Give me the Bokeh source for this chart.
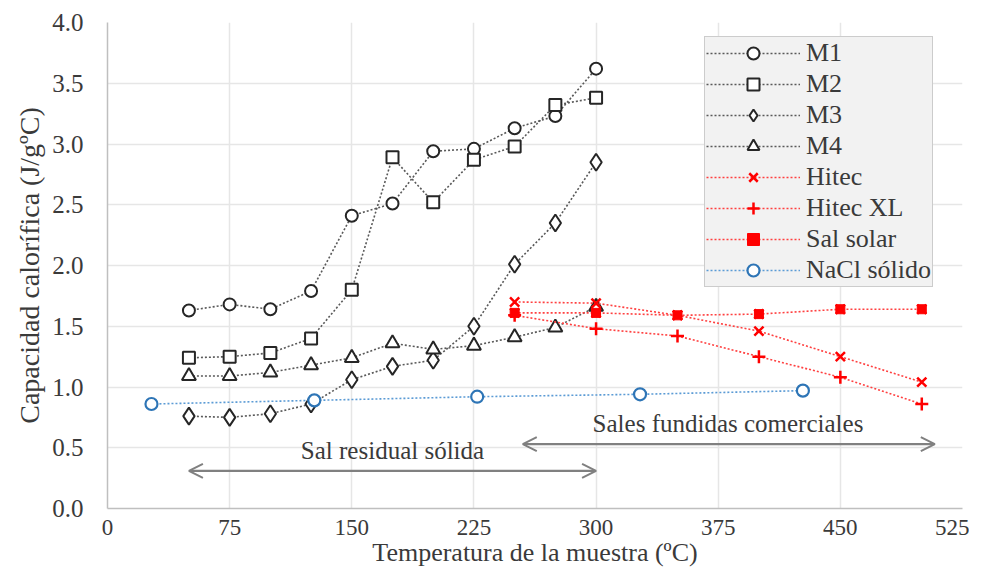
from bokeh.plotting import figure
from bokeh.models import (Arrow, OpenHead, Label, Legend, LegendItem, FixedTicker,
                          PrintfTickFormatter, Range1d)
from bokeh.embed import file_html
from bokeh.resources import INLINE

# ---- data ----
temp_m = [50, 75, 100, 125, 150, 175, 200, 225, 250, 275, 300]
m1 = [1.63, 1.68, 1.64, 1.79, 2.41, 2.51, 2.94, 2.96, 3.13, 3.23, 3.62]
m2 = [1.24, 1.25, 1.28, 1.40, 1.80, 2.89, 2.52, 2.87, 2.98, 3.32, 3.38]
m3 = [0.76, 0.75, 0.78, 0.86, 1.06, 1.17, 1.22, 1.50, 2.01, 2.35, 2.85]
m4 = [1.09, 1.09, 1.12, 1.18, 1.24, 1.36, 1.31, 1.34, 1.41, 1.49, 1.66]

temp_salt = [250, 300, 350, 400, 450, 500]
hitec = [1.70, 1.69, 1.59, 1.46, 1.25, 1.04]
hitec_xl = [1.59, 1.48, 1.42, 1.25, 1.08, 0.86]
sal_solar = [1.61, 1.61, 1.59, 1.60, 1.64, 1.64]

temp_nacl = [27, 127, 227, 327, 427]
nacl = [0.86, 0.89, 0.92, 0.94, 0.97]

x_ticks = [0, 75, 150, 225, 300, 375, 450, 525]
y_ticks = [0.0, 0.5, 1.0, 1.5, 2.0, 2.5, 3.0, 3.5, 4.0]

FONT = "Times New Roman"
TXT = "#3a3a3a"

p = figure(width=969, height=571, output_backend="svg", toolbar_location=None,
           x_range=Range1d(0, 525), y_range=Range1d(0, 4),
           min_border_left=107, min_border_right=7, min_border_top=22, min_border_bottom=63)
p.outline_line_color = None
p.background_fill_color = "white"

for ax in (p.xaxis[0], p.yaxis[0]):
    ax.major_tick_line_color = None
    ax.minor_tick_line_color = None
    ax.axis_line_color = "#bfbfbf"
    ax.axis_line_width = 1.5
    ax.major_label_text_font = FONT
    ax.major_label_text_color = TXT
    ax.axis_label_text_font = FONT
    ax.axis_label_text_font_style = "normal"
    ax.axis_label_text_color = TXT

p.xaxis.major_label_text_font_size = "23px"
p.yaxis.major_label_text_font_size = "25px"
p.xaxis.axis_label_text_font_size = "26px"
p.yaxis.axis_label_text_font_size = "28px"

p.xaxis.ticker = FixedTicker(ticks=x_ticks)
p.yaxis.ticker = FixedTicker(ticks=y_ticks)
p.yaxis.formatter = PrintfTickFormatter(format="%.1f")
p.xaxis.axis_label = "Temperatura de la muestra (ºC)"
p.yaxis.axis_label = "Capacidad calorífica (J/gºC)"
p.xaxis.major_label_standoff = 5
p.yaxis.major_label_standoff = 18
p.xaxis.axis_label_standoff = 0
p.yaxis.axis_label_standoff = 4

p.xgrid.grid_line_color = "#e6e6e6"
p.ygrid.grid_line_color = "#e6e6e6"
p.xgrid.grid_line_width = 1.5
p.ygrid.grid_line_width = 1.5

items = []
GRAY = "#595959"
MK = "#262626"

def series(x, y, label, lcolor, markers, size_list, mcolor, fills, mlw):
    rs = [p.line(x, y, line_color=lcolor, line_dash="2 2", line_width=1.6)]
    for mk, sz, fl, lw in zip(markers, size_list, fills, mlw):
        rs.append(p.scatter(x, y, marker=mk, size=sz, line_color=mcolor,
                            fill_color=fl, line_width=lw))
    items.append(LegendItem(label=label, renderers=rs))

series(temp_m, m1, "M1", GRAY, ["circle"], [12], MK, ["white"], [2.0])
series(temp_m, m2, "M2", GRAY, ["square"], [12], MK, ["white"], [2.0])
series(temp_m, m3, "M3", GRAY, ["diamond"], [17], MK, ["white"], [2.0])
series(temp_m, m4, "M4", GRAY, ["triangle"], [14], MK, ["white"], [2.0])
series(temp_salt, hitec, "Hitec", "#ff4040", ["x"], [13], "#ff0000", ["white"], [2.5])
series(temp_salt, hitec_xl, "Hitec XL", "#ff4040", ["cross"], [13], "#ff0000", ["white"], [2.5])
series(temp_salt, sal_solar, "Sal solar", "#ff4040", ["square", "x"], [9, 13],
       "#ff0000", ["#ff0000", "#ff0000"], [1.0, 2.5])
series(temp_nacl, nacl, "NaCl sólido", "#5b9bd5", ["circle"], [12], "#2e75b6", ["white"], [2.2])

legend = Legend(items=items, location=(597, 221))
legend.label_text_font = FONT
legend.label_text_font_size = "26px"
legend.label_text_color = TXT
legend.background_fill_color = "#f2f2f2"
legend.background_fill_alpha = 1.0
legend.border_line_color = "#a6a6a6"
legend.border_line_width = 1.5
legend.glyph_width = 94
legend.glyph_height = 30
legend.label_height = 30
legend.spacing = 1
legend.padding = 1
legend.margin = 0
legend.label_standoff = 6
p.add_layout(legend)

# annotations
ARC = "#808080"
p.add_layout(Arrow(start=OpenHead(size=14, line_color=ARC, line_width=2),
                   end=OpenHead(size=14, line_color=ARC, line_width=2),
                   x_start=50, y_start=0.31, x_end=300, y_end=0.31,
                   line_color=ARC, line_width=2.2))
p.add_layout(Arrow(start=OpenHead(size=14, line_color=ARC, line_width=2),
                   end=OpenHead(size=14, line_color=ARC, line_width=2),
                   x_start=255, y_start=0.53, x_end=508, y_end=0.53,
                   line_color=ARC, line_width=2.2))
p.add_layout(Label(x=175, y=0.37, text="Sal residual sólida", text_align="center",
                   text_font=FONT, text_font_size="25px", text_color=TXT))
p.add_layout(Label(x=381, y=0.59, text="Sales fundidas comerciales", text_align="center",
                   text_font=FONT, text_font_size="25px", text_color=TXT))

open("out.html", "w").write(file_html(p, INLINE))
